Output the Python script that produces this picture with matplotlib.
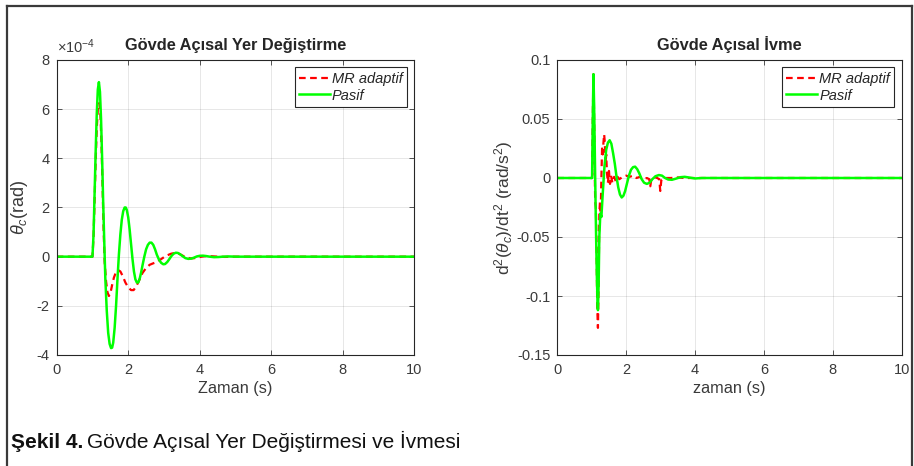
import matplotlib
matplotlib.use("Agg")
import matplotlib.pyplot as plt
from matplotlib import font_manager
from matplotlib.lines import Line2D

# ---------------- data ----------------
# Left panel: body angular displacement (units of 1e-4 rad)
t_theta_pasif = [0, 1.00, 1.03, 1.06, 1.09, 1.12, 1.15, 1.18, 1.21, 1.24, 1.27, 1.30, 1.33, 1.36, 1.40,
                 1.44, 1.48, 1.52, 1.55, 1.58, 1.62, 1.66, 1.70, 1.74, 1.78, 1.82, 1.86, 1.90, 1.93,
                 1.96, 2.00, 2.04, 2.08, 2.12, 2.16, 2.20, 2.24, 2.28, 2.32, 2.36, 2.40, 2.45, 2.50,
                 2.55, 2.60, 2.65, 2.70, 2.75, 2.80, 2.86, 2.92, 2.98, 3.03, 3.09, 3.15, 3.21, 3.27,
                 3.33, 3.39, 3.45, 3.52, 3.60, 3.68, 3.76, 3.84, 3.92, 4.00, 4.09, 4.18, 4.28, 4.40,
                 4.52, 4.65, 4.80, 5.00, 10]
theta_pasif = [0, 0, 0.9, 2.6, 4.3, 5.8, 6.8, 7.1, 6.7, 5.6, 4.0, 2.2, 0.6, -0.9, -2.2,
               -3.1, -3.55, -3.72, -3.7, -3.5, -2.9, -2.0, -0.9, 0.1, 0.9, 1.5, 1.85, 2.0, 2.0,
               1.9, 1.6, 1.1, 0.5, -0.1, -0.6, -0.92, -1.05, -1.05, -0.9, -0.65, -0.35, 0.0, 0.3,
               0.48, 0.57, 0.57, 0.48, 0.3, 0.08, -0.12, -0.25, -0.31, -0.3, -0.22, -0.1, 0.03, 0.12,
               0.16, 0.15, 0.1, 0.02, -0.06, -0.09, -0.08, -0.04, 0.01, 0.035, 0.04, 0.025, 0.0, -0.02,
               -0.015, 0.0, 0.01, 0.0, 0]

t_theta_mr = [0, 1.00, 1.03, 1.06, 1.09, 1.12, 1.15, 1.19, 1.22, 1.25, 1.28, 1.31, 1.34, 1.38, 1.42,
              1.46, 1.50, 1.55, 1.60, 1.66, 1.72, 1.78, 1.85, 1.92, 2.00, 2.08, 2.15, 2.22, 2.30,
              2.40, 2.50, 2.60, 2.70, 2.80, 2.90, 3.00, 3.10, 3.20, 3.30, 3.38, 3.46, 3.55, 3.65,
              3.75, 3.85, 3.95, 4.05, 4.15, 4.30, 4.50, 4.70, 5.00, 10]
theta_mr = [0, 0, 0.8, 2.3, 3.9, 5.2, 6.0, 6.25, 5.9, 4.7, 3.0, 1.2, -0.2, -1.0, -1.45,
            -1.6, -1.5, -1.15, -0.85, -0.62, -0.55, -0.6, -0.8, -1.05, -1.25, -1.36, -1.36, -1.22, -0.98,
            -0.66, -0.46, -0.33, -0.27, -0.22, -0.12, -0.02, 0.06, 0.12, 0.15, 0.14, 0.09, 0.02, -0.04,
            -0.07, -0.06, -0.03, 0.0, 0.02, 0.02, 0.0, -0.01, 0, 0]

# Right panel: body angular acceleration (rad/s^2)
t_acc_pasif = [0, 1.00, 1.01, 1.03, 1.05, 1.07, 1.09, 1.11, 1.13, 1.15, 1.17, 1.18, 1.20, 1.22, 1.25,
               1.28, 1.32, 1.37, 1.42, 1.47, 1.52, 1.57, 1.62, 1.67, 1.72, 1.77, 1.82, 1.87, 1.92,
               1.97, 2.02, 2.08, 2.14, 2.20, 2.26, 2.32, 2.38, 2.45, 2.52, 2.60, 2.68, 2.76, 2.85,
               2.95, 3.04, 3.13, 3.22, 3.33, 3.45, 3.58, 3.70, 3.85, 4.00, 4.20, 10]
acc_pasif = [0, 0, 0, 0.05, 0.088, 0.06, 0.02, -0.02, -0.055, -0.085, -0.108, -0.112, -0.09, -0.05, -0.03,
             -0.033, -0.013, 0.01, 0.024, 0.030, 0.032, 0.029, 0.021, 0.012, 0.001, -0.008, -0.014, -0.0165, -0.015,
             -0.011, -0.005, 0.002, 0.007, 0.0092, 0.0096, 0.0075, 0.004, -0.001, -0.004, -0.005, -0.004, -0.001, 0.0015,
             0.0025, 0.002, 0.0, -0.0013, -0.0015, -0.0005, 0.0007, 0.001, 0.0003, -0.0004, 0, 0]

t_acc_mr = [0, 1.00, 1.01, 1.03, 1.05, 1.07, 1.09, 1.10, 1.12, 1.14, 1.16, 1.18, 1.20, 1.22, 1.24,
            1.26, 1.28, 1.30, 1.32, 1.34, 1.36, 1.38, 1.40, 1.42, 1.44, 1.47, 1.50, 1.53, 1.56,
            1.60, 1.65, 1.70, 1.75, 1.80, 1.90, 2.00, 2.10, 2.20, 2.30, 2.40, 2.50, 2.60, 2.67,
            2.70, 2.73, 2.80, 2.90, 2.96, 2.99, 3.02, 3.10, 3.30, 3.50, 3.70, 10]
acc_mr = [0, 0, 0, 0.05, 0.088, 0.05, 0.0, -0.02, -0.025, -0.06, -0.11, -0.127, -0.09, -0.03, -0.02,
          -0.03, 0.0, 0.025, 0.02, 0.03, 0.037, 0.03, 0.012, 0.02, 0.005, -0.004, 0.006, -0.005, 0.002,
          -0.004, 0.001, -0.003, 0.001, -0.001, 0.001, 0.002, 0.001, 0.002, 0.0, 0.001, -0.001, 0.0, -0.001,
          -0.007, -0.001, 0.001, 0.0, -0.001, -0.011, -0.002, 0.0, 0.0, 0.0005, 0.0, 0]

series_labels = ["MR adaptif", "Pasif"]
x_ticks = [0, 2, 4, 6, 8, 10]
theta_ticks = [-4, -2, 0, 2, 4, 6, 8]
acc_ticks = [-0.15, -0.1, -0.05, 0, 0.05, 0.1]
acc_tick_labels = ["-0.15", "-0.1", "-0.05", "0", "0.05", "0.1"]

# ---------------- style ----------------
def pick_font(names):
    for n in names:
        try:
            font_manager.findfont(n, fallback_to_default=False)
            return n
        except Exception:
            pass
    return "DejaVu Sans"

main_font = pick_font(["Liberation Sans", "Arial", "DejaVu Sans"])
plt.rcParams["font.family"] = [main_font, "DejaVu Sans"]
plt.rcParams["axes.unicode_minus"] = False
plt.rcParams["mathtext.fontset"] = "custom"
plt.rcParams["mathtext.rm"] = main_font
plt.rcParams["mathtext.it"] = main_font + ":italic"

TXT = "#262626"
TICK = "#3a3a3a"
RED = "#ff0000"
GREEN = "#00ff00"

fig = plt.figure(figsize=(9.14, 4.66), dpi=100)
W, H = 914, 466

ax1 = fig.add_axes([56.7 / W, 1 - 355 / H, (414.3 - 56.7) / W, (355 - 60) / H])
ax2 = fig.add_axes([557.3 / W, 1 - 355 / H, (901.7 - 557.3) / W, (355 - 60) / H])

def style(ax):
    ax.set_xlim(0, 10)
    ax.set_xticks(x_ticks)
    ax.tick_params(direction="in", length=3.5, width=0.6, top=True, right=True,
                   colors=TICK, labelsize=10.5, pad=5)
    ax.tick_params(axis="x", pad=6)
    for s in ax.spines.values():
        s.set_color(TXT)
        s.set_linewidth(0.8)
    ax.grid(True, color=TXT, alpha=0.13, linewidth=0.6)
    ax.set_axisbelow(True)

# left
ax1.plot(t_theta_mr, theta_mr, color=RED, lw=1.6, ls=(0, (3, 2)), label=series_labels[0])
ax1.plot(t_theta_pasif, theta_pasif, color=GREEN, lw=1.8, label=series_labels[1])
style(ax1)
ax1.set_ylim(-4, 8)
ax1.set_yticks(theta_ticks)
ax1.set_yticklabels([str(v) for v in theta_ticks])
ax1.set_title("Gövde Açısal Yer Değiştirme", fontsize=11.8, fontweight="bold", color=TXT, pad=7)
ax1.set_xlabel("Zaman (s)", fontsize=11.7, color=TICK, labelpad=3)
ax1.set_ylabel(r"$\theta_c$(rad)", fontsize=13, color=TICK, labelpad=5)
ax1.text(0.0, 1.012, r"$\times 10^{-4}$", transform=ax1.transAxes, fontsize=10.5,
         color=TICK, ha="left", va="bottom")

# right
ax2.plot(t_acc_mr, acc_mr, color=RED, lw=1.6, ls=(0, (3, 2)), label=series_labels[0])
ax2.plot(t_acc_pasif, acc_pasif, color=GREEN, lw=1.8, label=series_labels[1])
style(ax2)
ax2.set_ylim(-0.15, 0.1)
ax2.set_yticks(acc_ticks)
ax2.set_yticklabels(acc_tick_labels)
ax2.set_title("Gövde Açısal İvme", fontsize=11.8, fontweight="bold", color=TXT, pad=7)
ax2.set_xlabel("zaman (s)", fontsize=11.7, color=TICK, labelpad=3)
ax2.set_ylabel(r"d$^2$($\theta_c$)/dt$^2$ (rad/s$^2$)", fontsize=12.5, color=TICK, labelpad=1)

for ax in (ax1, ax2):
    leg = ax.legend(loc="upper right", prop={"style": "italic", "size": 10.5},
                    frameon=True, fancybox=False, framealpha=1, edgecolor=TXT,
                    handlelength=2.1, handletextpad=0.15, labelspacing=0.2,
                    borderpad=0.3, borderaxespad=0.5)
    leg.get_frame().set_linewidth(0.8)
    for txt in leg.get_texts():
        txt.set_color(TXT)

# outer frame
frame_kw = dict(color="#3a3a3a", lw=1.6, transform=fig.transFigure)
fig.add_artist(Line2D([7 / W, 7 / W], [0, 1 - 6 / H], **frame_kw))
fig.add_artist(Line2D([7 / W, 912 / W], [1 - 6 / H, 1 - 6 / H], **frame_kw))
fig.add_artist(Line2D([912 / W, 912 / W], [0, 1 - 6 / H], **frame_kw))

# caption
cap1 = fig.text(11 / W, 1 - 448 / H, "Şekil 4.", fontsize=15, fontweight="bold",
                color="#111111", ha="left", va="baseline")
fig.canvas.draw()
bb = cap1.get_window_extent()
fig.text((bb.x1 + 4) / W, 1 - 448 / H, "Gövde Açısal Yer Değiştirmesi ve İvmesi", fontsize=15,
         color="#111111", ha="left", va="baseline")

fig.savefig("out.png", dpi=100)
